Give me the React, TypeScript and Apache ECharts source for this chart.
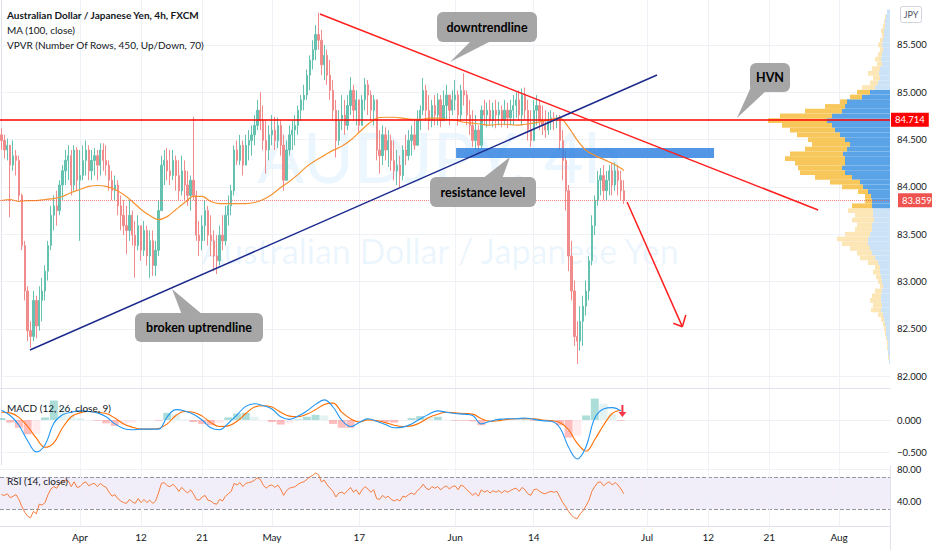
import React, { useEffect, useRef } from "react";
import * as echarts from "echarts";

// ---------------- DATA ----------------
const START_DAY = "2021-03-19";
const DAYS_SHOWN = 102;
const BARS_PER_DAY = 3;
const FIRST_OPEN = 84.55;

const CLOSE = [
  84.49, 84.39, 84.44, 84.23, 84.33, 84.28, 83.91, 83.38, 82.9, 82.48,
  82.42, 82.8, 82.53, 82.8, 82.9, 83.11, 83.38, 83.7, 83.8, 83.75,
  84.02, 84.17, 84.28, 84.33, 84.02, 84.39, 84.07, 84.12, 84.28, 84.39,
  84.17, 84.28, 84.33, 84.23, 84.39, 84.28, 84.23, 84.07, 83.96, 84.02,
  83.8, 83.7, 83.59, 83.54, 83.7, 83.49, 83.38, 83.59, 83.33, 83.54,
  83.27, 83.43, 83.17, 83.33, 83.75, 84.23, 84.28, 84.17, 84.12, 84.28,
  84.12, 83.96, 84.17, 84.02, 83.91, 84.07, 83.91, 83.49, 83.43, 83.59,
  83.75, 83.49, 83.43, 83.27, 83.22, 83.49, 83.43, 83.7, 83.8, 83.96,
  84.39, 84.28, 84.44, 84.23, 84.44, 84.49, 84.55, 84.65, 84.81, 84.7,
  84.49, 84.39, 84.55, 84.6, 84.49, 84.65, 84.44, 84.07, 84.39, 84.55,
  84.6, 84.65, 84.81, 84.92, 84.97, 85.18, 85.34, 85.45, 85.61, 85.55,
  85.29, 85.39, 85.18, 85.02, 84.81, 84.49, 84.7, 84.76, 84.65, 84.86,
  85.02, 84.81, 84.92, 84.65, 84.92, 85.08, 84.97, 84.81, 84.92, 84.39,
  84.33, 84.55, 84.39, 84.49, 84.28, 84.17, 84.23, 84.12, 84.39, 84.33,
  84.49, 84.55, 84.44, 84.7, 84.81, 85.02, 84.81, 84.7, 84.86, 84.76,
  84.92, 84.7, 84.86, 84.97, 84.81, 84.92, 84.97, 84.76, 85.02, 84.97,
  84.76, 84.65, 84.49, 84.6, 84.44, 84.81, 84.76, 84.81, 84.7, 84.81,
  84.76, 84.81, 84.7, 84.81, 84.73, 84.81, 84.86, 84.92, 84.76, 84.97,
  84.81, 84.6, 84.49, 84.81, 84.86, 84.7, 84.65, 84.6, 84.7, 84.73,
  84.7, 84.73, 84.49, 84.28, 83.96, 83.27, 82.9, 82.42, 82.37, 82.58,
  82.74, 82.9, 83.22, 83.59, 83.86, 84.07, 84.12, 83.96, 84.07, 84.17,
  84.02, 84.17, 84.07, 83.96, 83.859,
];

const HIGH = [
  84.62, 84.55, 84.51, 84.44, 84.49, 84.39, 84.33, 83.93, 83.43, 82.95,
  82.58, 82.9, 82.85, 82.95, 83.04, 83.17, 83.43, 83.8, 83.91, 83.96,
  84.07, 84.23, 84.39, 84.44, 84.39, 84.44, 84.42, 84.39, 84.44, 84.49,
  84.44, 84.39, 84.41, 84.39, 84.46, 84.46, 84.44, 84.28, 84.17, 84.12,
  84.07, 83.91, 83.86, 83.8, 83.86, 83.75, 83.64, 83.7, 83.59, 83.64,
  83.59, 83.54, 83.54, 83.43, 83.86, 84.33, 84.39, 84.41, 84.39, 84.39,
  84.33, 84.28, 84.33, 84.28, 84.17, 84.12, 84.74, 83.96, 83.64, 83.7,
  83.86, 83.8, 83.7, 83.54, 83.49, 83.59, 83.7, 83.8, 83.91, 84.02,
  84.44, 84.49, 84.55, 84.49, 84.55, 84.6, 84.65, 84.76, 84.92, 85.0,
  84.86, 84.7, 84.65, 84.76, 84.74, 84.73, 84.7, 84.55, 84.49, 84.65,
  84.7, 84.76, 84.86, 84.97, 85.08, 85.24, 85.39, 85.55, 85.71, 85.84,
  85.66, 85.5, 85.45, 85.34, 85.13, 84.92, 84.81, 84.97, 84.92, 84.97,
  85.16, 85.08, 85.02, 84.92, 84.97, 85.15, 85.13, 85.02, 84.97, 84.92,
  84.6, 84.65, 84.63, 84.6, 84.55, 84.49, 84.39, 84.33, 84.44, 84.55,
  84.6, 84.65, 84.7, 84.81, 84.86, 85.15, 85.08, 84.97, 84.92, 84.97,
  84.99, 84.97, 85.02, 85.08, 84.97, 85.02, 85.13, 85.02, 85.08, 85.2,
  85.02, 84.92, 84.81, 84.76, 84.65, 84.86, 84.92, 84.89, 84.92, 84.89,
  84.92, 84.9, 84.86, 84.92, 84.89, 84.92, 84.97, 85.0, 85.02, 85.04,
  85.05, 84.92, 84.81, 84.92, 84.97, 84.92, 84.86, 84.81, 84.79, 84.81,
  84.79, 84.76, 84.76, 84.6, 84.39, 84.02, 83.43, 83.01, 82.58, 82.74,
  82.85, 83.01, 83.27, 83.7, 83.91, 84.17, 84.2, 84.23, 84.17, 84.23,
  84.25, 84.26, 84.23, 84.17, 84.07,
];

const LOW = [
  84.39, 84.3, 84.28, 83.68, 84.17, 84.12, 83.86, 83.33, 82.8, 82.37,
  82.3, 82.37, 82.4, 82.48, 82.58, 82.8, 83.01, 83.33, 83.54, 83.59,
  83.7, 83.86, 84.02, 84.07, 83.91, 83.96, 83.96, 83.43, 84.07, 84.12,
  84.07, 84.07, 84.12, 84.07, 84.12, 84.17, 84.12, 83.96, 83.86, 83.86,
  83.7, 83.54, 83.49, 83.29, 83.43, 83.38, 83.04, 83.33, 83.22, 83.27,
  83.17, 83.04, 83.06, 83.06, 83.27, 83.75, 84.02, 84.07, 84.02, 84.07,
  83.96, 83.86, 83.91, 83.86, 83.8, 83.75, 83.86, 83.43, 83.27, 83.33,
  83.43, 83.38, 83.27, 83.11, 83.08, 83.17, 83.33, 83.38, 83.59, 83.7,
  83.91, 84.23, 84.23, 84.12, 84.23, 84.28, 84.33, 84.44, 84.6, 84.6,
  84.39, 84.14, 84.28, 84.44, 84.39, 84.41, 84.33, 83.96, 84.07, 84.33,
  84.39, 84.44, 84.55, 84.7, 84.81, 84.92, 85.02, 85.24, 85.34, 85.45,
  85.18, 85.13, 85.08, 84.92, 84.7, 84.31, 84.44, 84.6, 84.55, 84.6,
  84.76, 84.7, 84.65, 84.57, 84.65, 84.81, 84.76, 84.7, 84.65, 84.28,
  84.14, 84.23, 84.28, 84.21, 84.17, 84.07, 84.02, 83.99, 84.07, 84.23,
  84.28, 84.33, 84.39, 84.44, 84.6, 84.76, 84.7, 84.6, 84.63, 84.65,
  84.65, 84.63, 84.7, 84.7, 84.65, 84.76, 84.81, 84.65, 84.7, 84.86,
  84.65, 84.55, 84.42, 84.39, 84.35, 84.39, 84.65, 84.63, 84.65, 84.63,
  84.62, 84.65, 84.63, 84.65, 84.62, 84.65, 84.65, 84.73, 84.7, 84.65,
  84.7, 84.49, 84.42, 84.49, 84.65, 84.6, 84.55, 84.52, 84.55, 84.6,
  84.6, 84.62, 84.39, 84.07, 83.75, 83.11, 82.8, 82.32, 82.13, 82.27,
  82.32, 82.64, 82.8, 83.17, 83.49, 83.8, 83.91, 83.86, 83.86, 83.91,
  83.91, 83.96, 83.91, 83.86, 83.82,
];

// MA(100, close), sampled once per trading day (every 3rd bar), last point on the last bar
const MA_STEP = 3;
const MA100 = [
  83.856, 83.867, 83.846, 83.856, 83.856, 83.867, 83.877, 83.899, 83.941, 83.973,
  84.005, 84.015, 84.005, 83.973, 83.92, 83.846, 83.761, 83.697, 83.655, 83.686,
  83.761, 83.835, 83.899, 83.899, 83.846, 83.824, 83.824, 83.824, 83.824, 83.835,
  83.867, 83.92, 83.994, 84.058, 84.132, 84.217, 84.28, 84.333, 84.386, 84.429,
  84.492, 84.577, 84.662, 84.726, 84.736, 84.736, 84.726, 84.715, 84.715, 84.726,
  84.726, 84.715, 84.705, 84.683, 84.673, 84.662, 84.652, 84.662, 84.662, 84.652,
  84.662, 84.673, 84.694, 84.715, 84.726, 84.63, 84.492, 84.386, 84.333, 84.291,
  84.249, 84.196, 84.174,
];

// MACD(12, 26, close, 9), sampled once per trading day
const MACD_STEP = 3;
const MACD_LINE = [
  0.15, 0.07, -0.08, -0.32, -0.49, -0.38, -0.05, 0.08, 0.12, 0.14,
  0.13, 0.11, 0.05, -0.06, -0.13, -0.15, -0.14, -0.14, -0.14, 0.05,
  0.16, 0.14, 0.09, 0.0, -0.12, -0.15, -0.05, 0.08, 0.21, 0.25,
  0.22, 0.17, 0.05, 0.01, 0.06, 0.14, 0.24, 0.31, 0.2, 0.0,
  -0.1, -0.04, 0.02, -0.02, -0.07, -0.12, -0.11, -0.06, 0.02, 0.09,
  0.14, 0.12, 0.1, 0.09, 0.07, -0.06, -0.02, 0.01, 0.02, 0.02,
  0.03, 0.01, -0.01, -0.02, -0.12, -0.42, -0.6, -0.41, 0.03, 0.17,
  0.19, 0.14,
];
const SIGNAL_LINE = [
  0.12, 0.11, 0.04, -0.1, -0.28, -0.42, -0.35, -0.12, 0.05, 0.11,
  0.13, 0.12, 0.1, 0.03, -0.06, -0.11, -0.14, -0.14, -0.13, -0.06,
  0.07, 0.13, 0.12, 0.06, -0.04, -0.1, -0.09, -0.02, 0.1, 0.2,
  0.22, 0.2, 0.12, 0.06, 0.05, 0.09, 0.16, 0.24, 0.26, 0.12,
  0.02, -0.03, 0.0, -0.01, -0.04, -0.08, -0.1, -0.09, -0.04, 0.04,
  0.09, 0.12, 0.11, 0.1, 0.09, 0.02, -0.02, -0.01, 0.01, 0.02,
  0.02, 0.02, 0.0, -0.01, -0.04, -0.15, -0.36, -0.48, -0.3, -0.08,
  0.1, 0.15,
];

// RSI(14, close), one value per bar
const RSI14 = [
  48, 47, 49, 44, 46, 48, 42, 33, 26, 21,
  19, 27, 24, 36, 35, 38, 48, 55, 58, 56,
  62, 64, 66, 65, 58, 64, 57, 58, 62, 64,
  59, 61, 62, 58, 62, 59, 57, 51, 46, 48,
  43, 40, 38, 37, 42, 39, 37, 43, 38, 42,
  38, 41, 37, 40, 50, 62, 63, 59, 58, 61,
  57, 52, 57, 53, 50, 54, 49, 42, 41, 45,
  47, 41, 40, 37, 36, 42, 40, 46, 49, 52,
  62, 60, 63, 58, 62, 63, 64, 66, 69, 67,
  60, 56, 59, 60, 57, 60, 55, 47, 53, 56,
  57, 58, 61, 63, 64, 67, 70, 72, 75, 73,
  64, 66, 60, 56, 52, 45, 50, 51, 49, 53,
  57, 51, 54, 48, 54, 58, 55, 51, 54, 43,
  42, 47, 44, 46, 42, 40, 42, 40, 46, 45,
  48, 50, 48, 53, 56, 61, 56, 54, 58, 56,
  58, 54, 57, 59, 55, 58, 59, 54, 60, 58,
  54, 51, 47, 50, 46, 54, 51, 53, 50, 53,
  51, 53, 50, 53, 51, 53, 55, 56, 52, 57,
  54, 49, 47, 54, 55, 52, 50, 49, 51, 52,
  51, 52, 45, 38, 33, 27, 22, 19, 18, 24,
  28, 34, 41, 52, 58, 63, 64, 59, 62, 64,
  60, 63, 60, 55, 49,
];

// Volume profile (visible range): rows of 0.05 starting at 82.15
const VP_ROW_START = 82.15;
const VP_ROW_SIZE = 0.05;
const VP_UP = [
  1, 1, 2, 2, 2, 3, 4, 4, 5, 6,
  7, 9, 8, 9, 9, 8, 7, 8, 9, 10,
  10, 12, 15, 18, 20, 22, 22, 20, 18, 18,
  16, 17, 17, 18, 18, 19, 22, 27, 30, 38,
  45, 48, 45, 45, 47, 43, 40, 45, 50, 55,
  58, 63, 58, 48, 45, 43, 28, 20, 15, 12,
  10, 11, 10, 8, 9, 8, 7, 8, 7, 6,
  6, 5, 5, 4, 3,
];
const VP_DOWN = [
  0, 1, 0, 1, 1, 1, 1, 2, 2, 3,
  5, 10, 9, 11, 9, 7, 3, 4, 5, 7,
  5, 10, 15, 15, 20, 26, 31, 25, 17, 15,
  22, 18, 25, 20, 7, 6, 10, 21, 30, 37,
  45, 44, 50, 60, 53, 42, 38, 37, 43, 45,
  50, 59, 52, 37, 20, 7, 12, 13, 13, 8,
  7, 11, 8, 5, 6, 4, 3, 4, 3, 2,
  3, 2, 1, 1, 0,
];
const VALUE_AREA = [83.775, 85.025];

const PRICE_TICKS = [82, 82.5, 83, 83.5, 84, 84.5, 85, 85.5];
const MACD_TICKS = [0, -0.5];
const RSI_TICKS = [80, 40];
const RSI_BAND = [30, 70];
const TIME_TICK_DATES = [
  "2021-04-01", "2021-04-12", "2021-04-21", "2021-05-03", "2021-05-17", "2021-06-01",
  "2021-06-14", "2021-07-01", "2021-07-12", "2021-07-21", "2021-08-02",
];
const TIME_TICK_LABELS = ["Apr", "12", "21", "May", "17", "Jun", "14", "Jul", "12", "21", "Aug"];

const HVN_PRICE = 84.714;
const LAST_PRICE = 83.859;

// drawings, in [bar index, price]
const DOWNTREND = [[109.5, 85.827], [280.8, 83.756]];
const UPTREND = [[9.8, 82.276], [225.4, 85.182]];
const RESISTANCE_ZONE = [[156.3, 84.411], [245.0, 84.305]];
const ARROW_FROM = [215.1, 83.84];
const ARROW_TIP = [234.1, 82.523];
const ARROW_WING_A = [231.0, 82.559];
const ARROW_WING_B = [235.3, 82.646];
const MACD_ARROW = [213.5, 0.14];

// ---------------- LAYOUT ----------------
const PLOT_W = 890;
const MAIN_TOP = 0;
const MAIN_H = 388;
const MACD_TOP = 389;
const MACD_H = 76;
const RSI_TOP = 466;
const RSI_H = 60;
const PRICE_MIN = 81.875;
const PRICE_MAX = 85.975;
const MACD_MIN = -0.692;
const MACD_MAX = 0.477;
const RSI_MIN = 8.75;
const RSI_MAX = 83.75;
const VP_AXIS_MAX = PLOT_W;

const UP_COLOR = "#66c2b0";
const DOWN_COLOR = "#f08c8c";
const GRID_COLOR = "#eef1f6";
const BORDER_COLOR = "#e0e3eb";
const TEXT_COLOR = "#131722";
const FONT = "Lato, 'Open Sans', sans-serif";

const CALLOUTS = [
  { text: "downtrendline", box: [437, 12, 100, 30], tail: [[472, 40], [493, 40], [450, 62]] },
  { text: "resistance level", box: [430, 177, 106, 30], tail: [[482, 179], [502, 179], [510, 157]] },
  { text: "broken uptrendline", box: [135, 313, 128, 29], tail: [[182, 315], [203, 315], [172, 289]] },
  { text: "HVN", box: [750, 63, 40, 29], tail: [[751, 87], [767, 90], [737, 118]] },
];

function tradingDays(start: string, n: number): string[] {
  const out: string[] = [];
  const d = new Date(start + "T00:00:00Z");
  while (out.length < n) {
    const wd = d.getUTCDay();
    if (wd !== 0 && wd !== 6) out.push(d.toISOString().slice(0, 10));
    d.setUTCDate(d.getUTCDate() + 1);
  }
  return out;
}

function buildOption() {
  const days = tradingDays(START_DAY, DAYS_SHOWN);
  const slots: string[] = [];
  days.forEach((d) => {
    for (let b = 0; b < BARS_PER_DAY; b++) slots.push(d + " #" + b);
  });
  const slotCount = slots.length;
  const tickSlots = TIME_TICK_DATES.map((d) => days.indexOf(d) * BARS_PER_DAY);
  const labelByName: Record<string, string> = {};
  tickSlots.forEach((s, i) => (labelByName[slots[s]] = TIME_TICK_LABELS[i]));
  const tickSet = new Set(tickSlots);
  const lastBar = CLOSE.length - 1;

  const candles = CLOSE.map((c, i) => [i, i === 0 ? FIRST_OPEN : CLOSE[i - 1], c, LOW[i], HIGH[i]]);
  const maData = MA100.map((v, i) => [Math.min(i * MA_STEP, lastBar), v]);
  const macdData = MACD_LINE.map((v, i) => [i * MACD_STEP, v]);
  const sigData = SIGNAL_LINE.map((v, i) => [i * MACD_STEP, v]);
  const histData = MACD_LINE.map((v, i) => {
    const h = v - SIGNAL_LINE[i];
    const prev = i > 0 ? MACD_LINE[i - 1] - SIGNAL_LINE[i - 1] : h;
    const color = h >= 0 ? (h >= prev ? "#26a69a" : "#b2dfdb") : h <= prev ? "#ff5252" : "#ffcdd2";
    return { value: [i * MACD_STEP, +h.toFixed(3)], itemStyle: { color, opacity: 0.38 } };
  });

  // volume profile rows aligned with the price axis
  const vpRows = Math.round((PRICE_MAX - PRICE_MIN) / VP_ROW_SIZE);
  const vpCats = Array.from({ length: vpRows }, (_, i) => (PRICE_MIN + VP_ROW_SIZE * (i + 0.5)).toFixed(3));
  const vpUpData: any[] = new Array(vpRows).fill(0);
  const vpDownData: any[] = new Array(vpRows).fill(0);
  VP_UP.forEach((u, j) => {
    const p = VP_ROW_START + j * VP_ROW_SIZE;
    const idx = Math.round((p - PRICE_MIN) / VP_ROW_SIZE - 0.5);
    const inVA = p >= VALUE_AREA[0] && p <= VALUE_AREA[1];
    vpUpData[idx] = { value: u, itemStyle: { color: inVA ? "#5aa3e6" : "#cbe2f7" } };
    vpDownData[idx] = { value: VP_DOWN[j], itemStyle: { color: inVA ? "#f8c75c" : "#fce6b6" } };
  });

  const noLabel = { show: false };
  const gridLineStyle = { color: GRID_COLOR, width: 1, type: "solid" };

  const xValueAxis = (gridIndex: number) => ({
    type: "value",
    gridIndex,
    min: -0.5,
    max: slotCount - 0.5,
    axisLine: { show: true, lineStyle: { color: BORDER_COLOR } },
    axisTick: { show: false },
    axisLabel: { show: false },
    splitLine: { show: false },
  });

  const yRightAxis = (gridIndex: number, min: number, max: number, ticks: number[], fmt: (v: number) => string) => ({
    type: "value",
    gridIndex,
    position: "right",
    min,
    max,
    axisLine: { show: true, lineStyle: { color: BORDER_COLOR } },
    axisTick: { show: false },
    splitLine: { show: false },
    axisLabel: {
      customValues: ticks,
      formatter: (v: number) => fmt(v),
      color: TEXT_COLOR,
      fontSize: 9.5,
      fontFamily: FONT,
      margin: 7,
    },
  });

  const gridBase = { left: 0, width: PLOT_W, containLabel: false, outerBoundsMode: "none" } as any;

  const text = (x: number, y: number, t: string, font: string, fill = TEXT_COLOR, align = "left", z = 50) => ({
    type: "text",
    x,
    y,
    z,
    silent: true,
    style: { text: t, font, fill, align, textAlign: align, verticalAlign: "middle", textVerticalAlign: "middle" },
  });

  const graphics: any[] = [
    text(440, 156, "AUDJPY, 4h", `69px ${FONT}`, "rgba(33,150,243,0.09)", "center", 0),
    text(440, 250, "Australian Dollar / Japanese Yen", `34px ${FONT}`, "rgba(33,150,243,0.09)", "center", 0),
    text(7, 15, "Australian Dollar / Japanese Yen, 4h, FXCM", `bold 10px ${FONT}`),
    text(7, 30, "MA (100, close)", `10px ${FONT}`),
    text(7, 45, "VPVR (Number Of Rows, 450, Up/Down, 70)", `10px ${FONT}`),
    text(7, 408, "MACD (12, 26, close, 9)", `10px ${FONT}`),
    text(7, 481, "RSI (14, close)", `10px ${FONT}`),
    {
      type: "rect",
      z: 50,
      silent: true,
      shape: { x: 900.5, y: 6.5, width: 21, height: 16, r: 2 },
      style: { fill: "#fff", stroke: "#d1d4dc", lineWidth: 1 },
    },
    text(911, 14.5, "JPY", `9px ${FONT}`, "#50535e", "center"),
    {
      type: "line",
      z: 50,
      silent: true,
      shape: { x1: 890.5, y1: RSI_TOP + RSI_H, x2: 890.5, y2: 550 },
      style: { stroke: BORDER_COLOR, lineWidth: 1 },
    },
  ];
  CALLOUTS.forEach((c) => {
    const [bx, by, bw, bh] = c.box;
    graphics.push({
      type: "polygon",
      z: 100,
      silent: true,
      shape: { points: c.tail },
      style: { fill: "#a6a6a6" },
    });
    graphics.push({
      type: "rect",
      z: 100,
      silent: true,
      shape: { x: bx, y: by, width: bw, height: bh, r: 6 },
      style: { fill: "#a6a6a6" },
    });
    graphics.push(text(bx + bw / 2, by + bh / 2, c.text, `bold 12.5px ${FONT}`, "#000", "center", 101));
  });

  const vGridMain = tickSlots.map((s) => ({ xAxis: s }));
  const vGridRsi = tickSlots.map((s) => ({ xAxis: slots[s] }));

  const priceTag = (txt: string, bg: string, distance: number) => ({
    show: true,
    position: "end",
    formatter: () => txt,
    color: "#fff",
    backgroundColor: bg,
    padding: [2, 4, 2, 4],
    fontSize: 9.5,
    fontFamily: FONT,
    distance,
  });

  const solid = (color: string, width: number) => ({ color, width, type: "solid" });

  return {
    animation: false,
    backgroundColor: "#ffffff",
    textStyle: { fontFamily: FONT },
    grid: [
      { ...gridBase, top: MAIN_TOP, height: MAIN_H },
      { ...gridBase, top: MACD_TOP, height: MACD_H },
      { ...gridBase, top: RSI_TOP, height: RSI_H },
      { ...gridBase, top: MAIN_TOP, height: MAIN_H },
    ],
    xAxis: [
      xValueAxis(0),
      xValueAxis(1),
      {
        type: "category",
        gridIndex: 2,
        data: slots,
        boundaryGap: true,
        axisLine: { show: true, lineStyle: { color: BORDER_COLOR } },
        axisTick: { show: false },
        splitLine: { show: false },
        axisLabel: {
          interval: (i: number) => tickSet.has(i),
          formatter: (v: string) => labelByName[v] || "",
          color: TEXT_COLOR,
          fontSize: 10,
          fontFamily: FONT,
          margin: 6,
        },
      },
      { type: "value", gridIndex: 3, inverse: true, min: 0, max: VP_AXIS_MAX, show: false },
    ],
    yAxis: [
      yRightAxis(0, PRICE_MIN, PRICE_MAX, PRICE_TICKS, (v) => v.toFixed(3)),
      yRightAxis(1, MACD_MIN, MACD_MAX, MACD_TICKS, (v) => (v < 0 ? "\u2212" : "") + Math.abs(v).toFixed(3)),
      yRightAxis(2, RSI_MIN, RSI_MAX, RSI_TICKS, (v) => v.toFixed(2)),
      { type: "category", gridIndex: 3, data: vpCats, show: false, boundaryGap: true },
    ],
    graphic: graphics,
    series: [
      // grid lines (main)
      {
        type: "line",
        xAxisIndex: 0,
        yAxisIndex: 0,
        data: [],
        silent: true,
        markLine: {
          silent: true,
          z: 1,
          symbol: ["none", "none"],
          label: noLabel,
          lineStyle: gridLineStyle,
          data: [...PRICE_TICKS.map((v) => ({ yAxis: v })), ...vGridMain],
        },
      },
      // grid lines (MACD)
      {
        type: "line",
        xAxisIndex: 1,
        yAxisIndex: 1,
        data: [],
        silent: true,
        markLine: {
          silent: true,
          z: 1,
          symbol: ["none", "none"],
          label: noLabel,
          lineStyle: gridLineStyle,
          data: [...MACD_TICKS.map((v) => ({ yAxis: v })), ...vGridMain],
        },
      },
      // volume profile
      {
        type: "bar",
        name: "VP up",
        xAxisIndex: 3,
        yAxisIndex: 3,
        stack: "vp",
        silent: true,
        barCategoryGap: "0%",
        data: vpUpData,
        z: 1,
      },
      {
        type: "bar",
        name: "VP down",
        xAxisIndex: 3,
        yAxisIndex: 3,
        stack: "vp",
        silent: true,
        barCategoryGap: "0%",
        data: vpDownData,
        z: 1,
      },
      // candles
      {
        type: "candlestick",
        name: "AUDJPY",
        xAxisIndex: 0,
        yAxisIndex: 0,
        encode: { x: 0, y: [1, 2, 3, 4] },
        barWidth: 1.8,
        data: candles,
        itemStyle: {
          color: UP_COLOR,
          color0: DOWN_COLOR,
          borderColor: UP_COLOR,
          borderColor0: DOWN_COLOR,
          borderWidth: 1,
        },
        z: 2,
      },
      // MA 100
      {
        type: "line",
        name: "MA",
        xAxisIndex: 0,
        yAxisIndex: 0,
        data: maData,
        showSymbol: false,
        symbol: "none",
        smooth: 0.3,
        lineStyle: { color: "#f59331", width: 1.2 },
        silent: true,
        z: 3,
      },
      // drawings
      {
        type: "line",
        name: "drawings",
        xAxisIndex: 0,
        yAxisIndex: 0,
        data: [],
        silent: true,
        markArea: {
          silent: true,
          z: 3,
          itemStyle: { color: "rgba(52,132,224,0.85)" },
          data: [[{ coord: RESISTANCE_ZONE[0] }, { coord: RESISTANCE_ZONE[1] }]],
        },
        markLine: {
          silent: true,
          z: 5,
          symbol: ["none", "none"],
          label: noLabel,
          data: [
            { yAxis: HVN_PRICE, lineStyle: solid("#ff0000", 1.5), label: priceTag("84.714", "#ff0000", 1) },
            {
              yAxis: LAST_PRICE,
              lineStyle: { color: "rgba(239,83,80,0.7)", width: 1, type: "dotted" },
              label: priceTag("83.859", "#ef5350", 8),
            },
            [{ coord: DOWNTREND[0], lineStyle: solid("#ff1f1f", 1.5) }, { coord: DOWNTREND[1] }],
            [{ coord: UPTREND[0], lineStyle: solid("#1b2a8c", 1.5) }, { coord: UPTREND[1] }],
            [{ coord: ARROW_FROM, lineStyle: solid("#ff1f1f", 1.5) }, { coord: ARROW_TIP }],
            [{ coord: ARROW_TIP, lineStyle: solid("#ff1f1f", 1.5) }, { coord: ARROW_WING_A }],
            [{ coord: ARROW_TIP, lineStyle: solid("#ff1f1f", 1.5) }, { coord: ARROW_WING_B }],
          ],
        },
      },
      // MACD histogram + lines
      {
        type: "bar",
        name: "Histogram",
        xAxisIndex: 1,
        yAxisIndex: 1,
        data: histData,
        barWidth: 8,
        silent: true,
        z: 2,
      },
      {
        type: "line",
        name: "Signal",
        xAxisIndex: 1,
        yAxisIndex: 1,
        data: sigData,
        symbol: "none",
        smooth: 0.4,
        lineStyle: { color: "#ff6d00", width: 1.1 },
        silent: true,
        z: 3,
      },
      {
        type: "line",
        name: "MACD",
        xAxisIndex: 1,
        yAxisIndex: 1,
        data: macdData,
        symbol: "none",
        smooth: 0.4,
        lineStyle: { color: "#2196f3", width: 1.1 },
        silent: true,
        z: 4,
        markPoint: {
          silent: true,
          label: noLabel,
          data: [
            {
              coord: MACD_ARROW,
              symbol: "path://M3,0 L5,0 L5,7 L8,7 L4,12 L0,7 L3,7 Z",
              symbolSize: [8, 12],
              itemStyle: { color: "#f23645" },
            },
          ],
        },
      },
      // RSI
      {
        type: "line",
        name: "RSI",
        xAxisIndex: 2,
        yAxisIndex: 2,
        data: RSI14,
        symbol: "none",
        lineStyle: { color: "#f57c3e", width: 1 },
        silent: true,
        z: 3,
        markArea: {
          silent: true,
          z: 1,
          itemStyle: { color: "rgba(126,87,194,0.10)" },
          data: [[{ yAxis: RSI_BAND[1] }, { yAxis: RSI_BAND[0] }]],
        },
        markLine: {
          silent: true,
          z: 2,
          symbol: ["none", "none"],
          label: noLabel,
          data: [
            ...RSI_BAND.map((v) => ({ yAxis: v, lineStyle: { color: "#9598a1", width: 1, type: "dashed" } })),
            ...RSI_TICKS.map((v) => ({ yAxis: v, lineStyle: gridLineStyle })),
            ...vGridRsi.map((d) => ({ ...d, lineStyle: gridLineStyle })),
          ],
        },
      },
    ],
  };
}

export default function App() {
  const ref = useRef<HTMLDivElement>(null);
  useEffect(() => {
    if (!ref.current) return;
    const chart = echarts.init(ref.current, null, { renderer: "svg" });
    chart.setOption(buildOption() as any);
    return () => chart.dispose();
  }, []);
  return (
    <div
      ref={ref}
      style={{ position: "fixed", left: 0, top: 0, width: 932, height: 550, background: "#fff" }}
    />
  );
}
